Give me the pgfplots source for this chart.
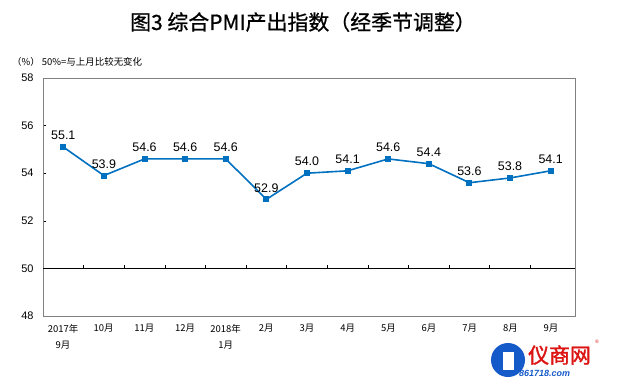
\documentclass[border=0pt]{standalone}
\usepackage{pgfplots}
\pgfplotsset{compat=1.18}
\usepackage{fontspec}
\setmainfont{Liberation Sans}
\newfontfamily\cjk{Noto Sans CJK SC}
\newfontfamily\cjkb{Noto Sans CJK SC}[FakeBold=0.8]
\newfontfamily\cjkbb{Noto Sans CJK SC}[FakeBold=1.5]
\definecolor{lineblue}{RGB}{0,112,192}
\definecolor{framegray}{RGB}{128,128,128}
\definecolor{logored}{RGB}{220,20,20}
\definecolor{logoblue}{RGB}{20,90,200}
\begin{document}
\begin{tikzpicture}[x=1bp,y=1bp]
\path (0,0) rectangle (617,384);
\begin{axis}[
  at={(43bp,68bp)}, anchor=south west,
  width=532bp, height=238bp, scale only axis,
  xmin=-0.5, xmax=12.6, ymin=48, ymax=58,
  ytick={48,50,...,58},
  ytick pos=left,
  xtick=\empty,
  axis line style={framegray, line width=0.8pt},
  major tick length=3bp,
  tick align=inside,
  tick style={black, line width=0.5pt},
  yticklabel style={font=\fontsize{11}{12}\selectfont, xshift=-6bp},
  /pgf/number format/assume math mode=true,
  clip=false,
  nodes near coords,
  every node near coord/.append style={font=\fontsize{12.5}{13}\selectfont, black, yshift=3bp},
  point meta=explicit symbolic,
]
\draw[black, line width=0.6pt] (axis cs:-0.5,50) -- (axis cs:12.6,50);
\pgfplotsinvokeforeach{0.5,1.5,...,11.5}{\draw[black, line width=0.5pt] (axis cs:#1,50) -- (axis cs:#1,50.13);}
\addplot[lineblue, line width=1.6pt, mark=square*, mark size=2.2bp, mark options={fill=lineblue, draw=lineblue}] coordinates {
(0,55.1)[55.1] (1,53.9)[53.9] (2,54.6)[54.6] (3,54.6)[54.6] (4,54.6)[54.6] (5,52.9)[52.9] (6,54.0)[54.0] (7,54.1)[54.1] (8,54.6)[54.6] (9,54.4)[54.4] (10,53.6)[53.6] (11,53.8)[53.8] (12,54.1)[54.1]
};
\end{axis}
% x labels
\foreach \i/\lab in {0/{2017年\\9月},1/10月,2/11月,3/12月,4/{2018年\\1月},5/2月,6/3月,7/4月,8/5月,9/6月,10/7月,11/8月,12/9月}{
  \node[anchor=north, align=center, font=\cjk\fontsize{9.5}{16}\selectfont, inner sep=0pt] at ({63+40.67*\i}, 60) {\lab};
}
% title
\node[font=\cjkb\fontsize{21}{23}\selectfont] at (303,362) {图3 综合PMI产出指数（经季节调整）};
\node[anchor=west, font=\cjk\fontsize{9.5}{11}\selectfont, inner sep=0pt] at (12,322) {（\%）\ 50\%=与上月比较无变化};
% watermark
\fill[logoblue] (508,24) circle (17);
\fill[white] (503,14) rectangle (514,32);
\node[font=\cjkbb\fontsize{21}{22}\selectfont, text=logored, anchor=west, inner sep=0pt] at (528,29) {仪商网};
\node[font=\fontsize{5}{6}\selectfont, text=logored, inner sep=0pt] at (597,42) {®};
\node[font=\bfseries\itshape\fontsize{9}{10}\selectfont, text=logoblue, anchor=west, inner sep=0pt] at (519,11) {861718.com};
\end{tikzpicture}
\end{document}
